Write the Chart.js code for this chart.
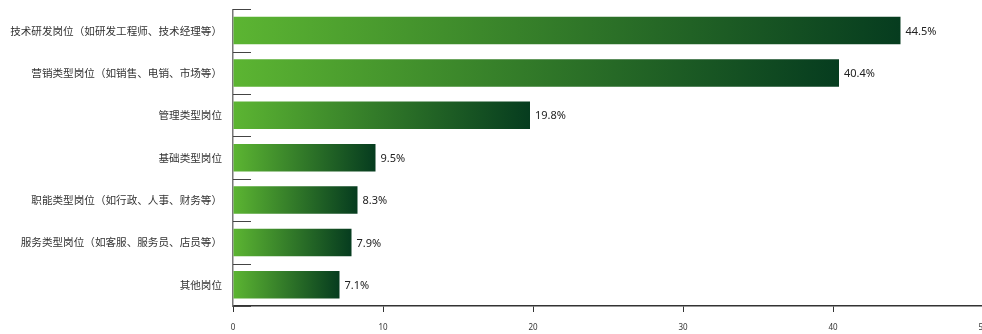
<!DOCTYPE html>
<html>
<head>
<meta charset="utf-8">
<script src="https://cdn.jsdelivr.net/npm/chart.js@4"></script>
<style>
  html, body { margin: 0; padding: 0; background: #fff; overflow: hidden; }
  #wrap { width: 1000px; height: 334px; }
</style>
</head>
<body>
<div id="wrap"><canvas id="postChart"></canvas></div>
<script>
const categories = [
  '技术研发岗位（如研发工程师、技术经理等）',
  '营销类型岗位（如销售、电销、市场等）',
  '管理类型岗位',
  '基础类型岗位',
  '职能类型岗位（如行政、人事、财务等）',
  '服务类型岗位（如客服、服务员、店员等）',
  '其他岗位'
];
const shares = [44.5, 40.4, 19.8, 9.5, 8.3, 7.9, 7.1];
const xTicks = [0, 10, 20, 30, 40, 50];

const LIGHT = '#5cb532', DARK = '#063c1f';

// each bar gets its own left-to-right gradient
function barFill(c) {
  const chart = c.chart;
  if (!chart.chartArea || c.raw === undefined) return LIGHT;
  const x = chart.scales.x;
  const g = chart.ctx.createLinearGradient(x.getPixelForValue(0), 0, x.getPixelForValue(c.raw), 0);
  g.addColorStop(0, LIGHT);
  g.addColorStop(1, DARK);
  return g;
}

// short marks between categories, pointing into the plot
const catMarks = {
  id: 'catMarks',
  afterDraw(chart) {
    const y = chart.scales.y, ctx = chart.ctx;
    const step = (y.bottom - y.top) / categories.length;
    ctx.save();
    ctx.strokeStyle = '#444';
    ctx.lineWidth = 1;
    for (let i = 0; i <= categories.length; i++) {
      const py = Math.round(y.top + i * step) + 0.5;
      ctx.beginPath();
      ctx.moveTo(y.right, py);
      ctx.lineTo(y.right + 18, py);
      ctx.stroke();
    }
    ctx.restore();
  }
};

const valueLabels = {
  id: 'valueLabels',
  afterDatasetsDraw(chart) {
    const ctx = chart.ctx;
    const meta = chart.getDatasetMeta(0);
    ctx.save();
    ctx.font = '11px "Noto Sans", "Noto Sans CJK SC", sans-serif';
    ctx.fillStyle = '#222';
    ctx.textBaseline = 'middle';
    meta.data.forEach((bar, i) => {
      ctx.fillText(shares[i].toFixed(1) + '%', bar.x + 5, bar.y + 1);
    });
    ctx.restore();
  }
};

new Chart(document.getElementById('postChart'), {
  type: 'bar',
  data: {
    labels: categories,
    datasets: [{
      data: shares,
      backgroundColor: barFill,
      borderWidth: 0,
      barPercentage: 0.65,
      categoryPercentage: 1
    }]
  },
  options: {
    indexAxis: 'y',
    responsive: true,
    maintainAspectRatio: false,
    animation: false,
    layout: { padding: { top: 4, right: 17, left: 0, bottom: 0 } },
    plugins: { legend: { display: false }, tooltip: { enabled: false } },
    scales: {
      x: {
        min: 0, max: 50,
        afterBuildTicks: s => { s.ticks = xTicks.map(v => ({ value: v })); },
        afterFit: s => { s.height = 28; },
        grid: { drawOnChartArea: false, drawTicks: true, tickLength: 6, color: '#333' },
        border: { color: '#333', width: 1.5 },
        ticks: {
          color: '#333',
          padding: 11,
          maxRotation: 0,
          font: { size: 8, family: '"Noto Sans", sans-serif' }
        }
      },
      y: {
        afterFit: s => { s.width = 233; },
        grid: { display: false },
        border: { color: '#777', width: 1.5 },
        ticks: {
          color: '#333',
          padding: 3,
          font: { size: 10.6, family: '"Noto Sans CJK SC", sans-serif' }
        }
      }
    }
  },
  plugins: [catMarks, valueLabels]
});
</script>
</body>
</html>
